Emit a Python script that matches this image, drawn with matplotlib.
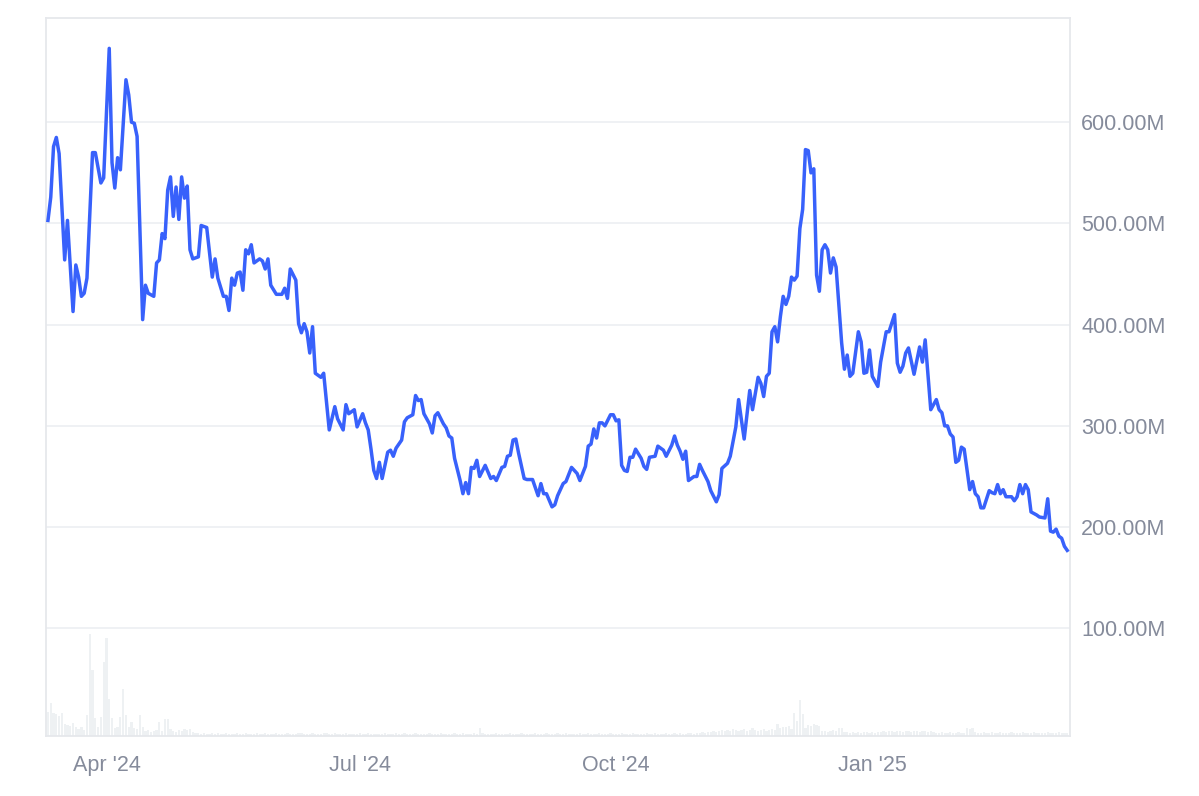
import numpy as np
import pandas as pd
import matplotlib
matplotlib.use("Agg")
import matplotlib.pyplot as plt
import matplotlib.dates as mdates
from matplotlib.ticker import FuncFormatter, FixedLocator

plt.rcParams['font.family'] = ['Liberation Sans', 'DejaVu Sans']

START_DATE = "2024-03-11"

# market cap (millions); day offsets from START_DATE
cap_days = [
    0, 1, 2, 3, 4, 6, 7, 9, 10, 11, 12, 13, 14, 16, 17, 19, 20, 22, 23, 24,
    25, 26, 28, 29, 30, 31, 32, 34, 35, 36, 38, 39, 40, 41, 42, 43, 44, 45, 46, 47,
    48, 49, 50, 51, 52, 54, 55, 56, 57, 59, 60, 61, 63, 64, 65, 66, 67, 68, 69, 70,
    71, 72, 73, 74, 76, 77, 78, 79, 80, 82, 84, 85, 86, 87, 89, 90, 91, 92, 93, 94,
    95, 96, 98, 99, 101, 103, 104, 106, 107, 108, 110, 111, 113, 114, 115, 116, 117, 118, 119, 120,
    122, 123, 124, 125, 127, 128, 129, 131, 132, 133, 134, 135, 137, 138, 139, 140, 142, 143, 144, 145,
    146, 148, 149, 150, 151, 152, 153, 154, 155, 157, 159, 160, 161, 163, 164, 165, 166, 167, 168, 169,
    171, 172, 174, 176, 177, 178, 179, 181, 182, 183, 185, 186, 188, 190, 191, 193, 194, 195, 196, 197,
    198, 199, 200, 202, 203, 204, 205, 206, 207, 208, 209, 210, 211, 213, 214, 215, 216, 218, 219, 221,
    222, 224, 225, 226, 227, 228, 229, 230, 232, 233, 234, 235, 237, 238, 240, 241, 242, 244, 245, 247,
    248, 249, 250, 252, 253, 255, 256, 257, 258, 259, 260, 261, 262, 263, 264, 265, 266, 267, 268, 269,
    270, 271, 272, 273, 274, 275, 276, 277, 278, 279, 280, 281, 282, 283, 285, 286, 287, 288, 289, 291,
    292, 293, 294, 295, 296, 298, 299, 301, 302, 304, 305, 306, 307, 308, 309, 311, 313, 314, 315, 317,
    319, 320, 321, 322, 323, 324, 325, 326, 327, 328, 329, 331, 332, 333, 334, 335, 336, 338, 339, 340,
    341, 342, 343, 344, 346, 347, 348, 349, 350, 351, 352, 353, 355, 356, 358, 359, 360, 361, 362, 363,
    364, 365, 366,
]
cap_values = [
    503, 526, 576, 585, 569, 464, 503, 413, 459, 447, 428, 431, 446, 570, 570, 540, 545, 673, 560, 535,
    565, 553, 642, 627, 600, 599, 586, 405, 439, 431, 428, 461, 464, 490, 485, 533, 546, 507, 536, 504,
    546, 525, 537, 474, 465, 467, 498, 497, 496, 447, 465, 446, 428, 428, 414, 446, 439, 451, 452, 434,
    474, 470, 479, 461, 465, 463, 455, 465, 439, 430, 430, 436, 426, 455, 444, 401, 392, 401, 393, 372,
    398, 352, 348, 352, 296, 319, 307, 296, 321, 312, 316, 299, 312, 303, 296, 277, 256, 248, 264, 248,
    274, 276, 270, 278, 286, 304, 308, 311, 330, 325, 326, 312, 302, 293, 310, 313, 302, 298, 290, 288,
    268, 246, 233, 244, 233, 259, 258, 266, 250, 261, 248, 250, 246, 259, 260, 270, 271, 286, 287, 273,
    248, 247, 247, 231, 243, 233, 233, 220, 222, 231, 243, 245, 259, 253, 246, 260, 280, 282, 297, 288,
    303, 303, 300, 311, 311, 305, 306, 261, 256, 255, 269, 269, 277, 268, 260, 257, 269, 270, 280, 276,
    270, 281, 290, 281, 275, 267, 275, 246, 250, 250, 262, 256, 245, 236, 225, 232, 258, 263, 270, 299,
    326, 306, 287, 335, 316, 348, 342, 329, 349, 352, 393, 398, 383, 408, 428, 420, 428, 447, 444, 448,
    495, 514, 573, 572, 550, 554, 449, 433, 474, 479, 474, 451, 466, 457, 382, 356, 370, 349, 352, 393,
    383, 352, 353, 375, 349, 339, 363, 393, 393, 410, 362, 353, 359, 372, 377, 351, 378, 363, 385, 316,
    326, 316, 313, 300, 300, 292, 289, 264, 266, 279, 277, 237, 245, 233, 230, 219, 219, 236, 234, 233,
    242, 233, 237, 230, 230, 226, 230, 242, 233, 242, 237, 215, 212, 210, 209, 228, 196, 195, 198, 191,
    189, 181, 177,
]

# daily trading volume (millions), one value per day from START_DATE
volume = [
    24, 33, 23, 22, 20, 23, 12, 11, 10, 13, 9, 7, 9, 6, 21, 101, 65, 18, 9, 19,
    73, 97, 37, 18, 8, 9, 19, 47, 21, 9, 14, 8, 7, 21, 9, 5, 6, 4, 5, 6,
    14, 5, 17, 17, 7, 5, 4, 6, 5, 7, 6, 7, 4, 3, 3, 2, 3, 2, 2, 3,
    2, 3, 2, 2, 3, 2, 2, 2, 3, 2, 2, 3, 2, 2, 2, 3, 2, 2, 3, 2,
    2, 2, 3, 2, 2, 2, 3, 2, 2, 2, 3, 3, 2, 2, 2, 3, 2, 2, 2, 3,
    3, 2, 2, 3, 2, 2, 2, 3, 2, 2, 2, 2, 3, 2, 2, 3, 2, 2, 2, 2,
    2, 3, 2, 2, 2, 3, 2, 2, 3, 2, 2, 2, 3, 2, 2, 2, 2, 3, 2, 2,
    2, 3, 2, 2, 2, 2, 3, 2, 2, 3, 2, 2, 2, 3, 2, 8, 3, 2, 2, 2,
    2, 3, 2, 2, 2, 2, 3, 2, 2, 2, 3, 2, 2, 2, 2, 3, 2, 2, 2, 3,
    2, 2, 2, 3, 2, 2, 3, 2, 2, 2, 2, 3, 2, 2, 3, 2, 2, 2, 3, 2,
    2, 2, 3, 2, 2, 2, 3, 2, 2, 2, 3, 2, 2, 2, 2, 3, 2, 2, 3, 2,
    2, 2, 3, 2, 2, 3, 2, 3, 2, 2, 3, 3, 2, 3, 3, 4, 3, 4, 4, 5,
    4, 5, 6, 5, 6, 5, 7, 6, 5, 6, 7, 5, 6, 8, 6, 5, 6, 7, 5, 6,
    7, 6, 12, 8, 9, 9, 10, 7, 23, 15, 36, 22, 8, 11, 10, 12, 11, 10, 5, 5,
    4, 5, 6, 5, 8, 8, 4, 4, 3, 4, 3, 4, 3, 4, 4, 3, 4, 3, 4, 4,
    5, 4, 5, 5, 4, 5, 5, 4, 5, 5, 4, 5, 5, 4, 5, 5, 4, 5, 4, 3,
    3, 4, 3, 3, 4, 3, 3, 4, 3, 3, 8, 7, 8, 4, 3, 3, 4, 3, 3, 4,
    3, 3, 4, 3, 3, 3, 4, 3, 3, 3, 4, 3, 3, 3, 4, 3, 3, 3, 3, 4,
    3, 3, 3, 4, 3, 3, 3,
]

y_ticks = [100, 200, 300, 400, 500, 600]

start = pd.Timestamp(START_DATE)
cap_dates = start + pd.to_timedelta(cap_days, unit="D")
vol_dates = start + pd.to_timedelta(np.arange(len(volume)), unit="D")

LINE = "#3861fb"
GRID = "#eef0f3"
FRAME = "#e6e8ec"
TEXT = "#858b9b"

fig = plt.figure(figsize=(11.99, 7.96), dpi=100)
ax = fig.add_axes([46 / 1199, 1 - 736 / 796, 1024 / 1199, 718 / 796])

# volume bars on their own scale at the bottom
vax = ax.twinx()
vax.bar(vol_dates, volume, width=0.8, color="#eef1f3", linewidth=0, zorder=1)
vax.set_ylim(0, max(volume) / 0.142)
vax.set_yticks([])
for s in vax.spines.values():
    s.set_visible(False)

ax.set_zorder(vax.get_zorder() + 1)
ax.patch.set_visible(False)

ax.plot(cap_dates, cap_values, color=LINE, linewidth=2.5, solid_joinstyle="round", zorder=3)

ax.set_ylim(-6.4, 703)
ax.set_xlim(start - pd.Timedelta(hours=17), start + pd.Timedelta(days=367))

ax.yaxis.tick_right()
ax.yaxis.set_major_locator(FixedLocator(y_ticks))
ax.yaxis.set_major_formatter(FuncFormatter(lambda v, p: f"{v:.2f}M"))
ax.grid(axis="y", color=GRID, linewidth=1.3, zorder=0)
ax.grid(axis="x", visible=False)

ax.xaxis.set_major_locator(mdates.MonthLocator(bymonth=[1, 4, 7, 10]))
ax.xaxis.set_major_formatter(mdates.DateFormatter("%b '%y"))

ax.tick_params(axis="y", length=0, pad=8, labelsize=15.5, labelcolor=TEXT)
ax.tick_params(axis="x", length=0, pad=14, labelsize=15.5, labelcolor=TEXT)

for s in ax.spines.values():
    s.set_color(FRAME)
    s.set_linewidth(1.3)

fig.savefig("out.png", dpi=100, facecolor="white")
